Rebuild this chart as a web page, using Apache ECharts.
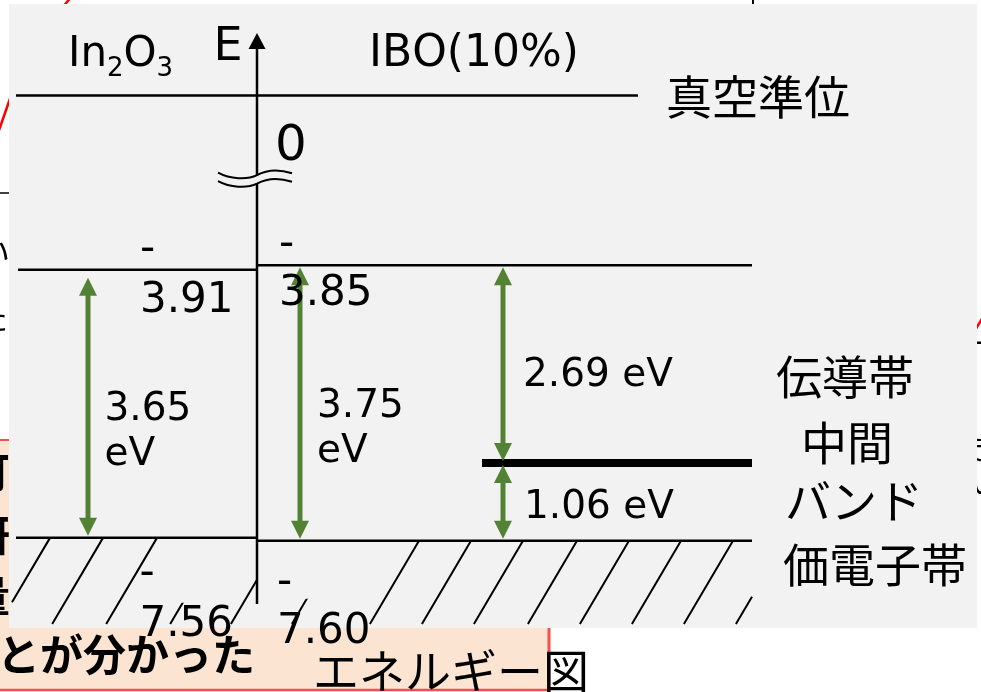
<!DOCTYPE html>
<html lang="ja">
<head>
<meta charset="utf-8">
<title>エネルギー図</title>
<script src="https://cdn.jsdelivr.net/npm/echarts@6.0.0/dist/echarts.min.js"></script>
<style>
html, body { margin: 0; padding: 0; background: #fff; }
#chart { width: 981px; height: 692px; }
</style>
</head>
<body>
<div id="chart"></div>
<script>
// ---- band energies, eV relative to the vacuum level ----
const materials = ['In₂O₃', 'IBO(10%)'];
const vacuumLevel = 0;
const conductionBand = [-3.91, -3.85];
const valenceBand = [-7.56, -7.60];
const intermediateBand = -6.54;            // IBO(10%) only
const bandGaps = [3.65, 3.75];             // CB -> VB for each material
const intermediateGaps = [2.69, 1.06];     // CB -> IB, IB -> VB
const levelNames = ['真空準位', '伝導帯', '中間バンド', '価電子帯'];
const axisName = 'E';

// ---- drawing constants ----
const LATIN = '"DejaVu Sans", Verdana, sans-serif';
const CJK = '"Noto Sans CJK JP", sans-serif';
const GREEN = '#548235';
const PANEL = '#f2f2f2';
const PEACH = '#fbe5d2';
const RED = '#f25050';
const AXIS_MIN = -8.46, AXIS_MAX = 0.85;
const X = { left: 16, axis: 257, right: 752, vacuumEnd: 638, ibStart: 482 };
const HATCH_SLOPE = 0.59, HATCH_BOTTOM = 624;

// diagonal hatching below each valence band; mask = text frame of the value label
const hatchLayout = [
  { tops: [50, 103, 157, 221], xMin: 12, xMax: X.axis, mask: [160, 256, 1, 65] },
  { tops: [280, 341, 419, 471, 523, 577, 629, 681, 733, 785], xMin: 12, xMax: X.right, mask: [258, 380, 1, 58] }
];

function textEl(text, x, y, font, extra) {
  return Object.assign({
    type: 'text',
    style: { text, x, y, font, fill: '#000', align: 'left', verticalAlign: 'middle',
             textAlign: 'left', textVerticalAlign: 'middle' }
  }, extra || {});
}

// ---- renderers (all vertical positions go through the energy axis) ----
function renderHatch(params, api) {
  const h = hatchLayout[api.value(0)];
  const y0 = api.coord([0, api.value(1)])[1];
  const xAt = (xt, y) => xt - HATCH_SLOPE * (y - y0);
  const children = [];
  h.tops.forEach(xt => {
    let ya = y0, yb = HATCH_BOTTOM;
    if (xt > h.xMax) ya = y0 + (xt - h.xMax) / HATCH_SLOPE;
    if (xAt(xt, yb) < h.xMin) yb = y0 + (xt - h.xMin) / HATCH_SLOPE;
    if (yb > ya) {
      children.push({ type: 'line', shape: { x1: xAt(xt, ya), y1: ya, x2: xAt(xt, yb), y2: yb },
                      style: { stroke: '#000', lineWidth: 2 } });
    }
  });
  const m = h.mask;
  children.push({ type: 'rect', shape: { x: m[0], y: y0 + m[2], width: m[1] - m[0], height: m[3] - m[2] },
                  style: { fill: PANEL } });
  return { type: 'group', children };
}

function renderLevel(params, api) {
  const a = api.coord([api.value(0), api.value(2)]);
  const b = api.coord([api.value(1), api.value(2)]);
  return { type: 'line', shape: { x1: a[0], y1: a[1], x2: b[0], y2: b[1] },
           style: { stroke: '#000', lineWidth: api.value(3) } };
}

function renderGap(params, api) {
  const x = api.coord([api.value(0), 0])[0];
  const top = api.coord([0, api.value(1)])[1] + api.value(4);
  const bot = api.coord([0, api.value(2)])[1] - api.value(5);
  const hl = 18, hw = 9;
  const twoLine = api.value(8) === 1;
  const label = api.value(3).toFixed(2) + (twoLine ? '\n' : ' ') + 'eV';
  const t = textEl(label, api.value(6), (top + bot) / 2 + api.value(7), '39px ' + LATIN);
  t.style.lineHeight = 45;
  return { type: 'group', children: [
    { type: 'line', shape: { x1: x, y1: top + hl - 1, x2: x, y2: bot - hl + 1 },
      style: { stroke: GREEN, lineWidth: 5 } },
    { type: 'polygon', shape: { points: [[x, top], [x - hw, top + hl], [x + hw, top + hl]] },
      style: { fill: GREEN } },
    { type: 'polygon', shape: { points: [[x, bot], [x - hw, bot - hl], [x + hw, bot - hl]] },
      style: { fill: GREEN } },
    t
  ] };
}

function renderLevelLabel(params, api) {
  const e = api.value(0);
  const y = api.coord([0, e])[1] + api.value(2);
  const s = e.toFixed(2);
  const t = textEl(s.charAt(0) + '\n' + s.slice(1), api.value(1), y, '42px ' + LATIN);
  t.style.lineHeight = api.value(3);
  return t;
}

function renderAxis(params, api) {
  const x = api.coord([X.axis, 0])[0];
  const yBottom = api.coord([0, AXIS_MIN])[1];
  const yTip = api.coord([0, AXIS_MAX])[1];
  const yBreak = (api.coord([0, -0.3])[1] + api.coord([0, -3.3])[1]) / 2 + 6;
  const yVac = api.coord([0, vacuumLevel])[1];
  const p = (px, py) => (x + px) + ' ' + (yBreak + py);
  const upper = 'M' + p(-39, -4.5) + ' C' + p(-27, 2) + ' ' + p(-10, 3) + ' ' + p(0, -2) +
                ' C' + p(9, -7) + ' ' + p(22, -8) + ' ' + p(35, -4);
  const lower = 'M' + p(-39, 4) + ' C' + p(-27, 10.5) + ' ' + p(-10, 11.5) + ' ' + p(0, 6.5) +
                ' C' + p(9, 1.5) + ' ' + p(22, 0.5) + ' ' + p(35, 4.5);
  const fill = 'M' + p(-39, -4.5) + ' C' + p(-27, 2) + ' ' + p(-10, 3) + ' ' + p(0, -2) +
               ' C' + p(9, -7) + ' ' + p(22, -8) + ' ' + p(35, -4) + ' L' + p(35, 4.5) +
               ' C' + p(22, 0.5) + ' ' + p(9, 1.5) + ' ' + p(0, 6.5) +
               ' C' + p(-10, 11.5) + ' ' + p(-27, 10.5) + ' ' + p(-39, 4) + ' Z';
  return { type: 'group', children: [
    { type: 'line', shape: { x1: x, y1: yBottom, x2: x, y2: yTip + 15 },
      style: { stroke: '#000', lineWidth: 2.5 } },
    { type: 'polygon', shape: { points: [[x, yTip], [x - 8.5, yTip + 16], [x + 8.5, yTip + 16]] },
      style: { fill: '#000' } },
    { type: 'path', shape: { pathData: fill }, style: { fill: PANEL, stroke: null } },
    { type: 'path', shape: { pathData: upper }, style: { fill: null, stroke: '#000', lineWidth: 2 } },
    { type: 'path', shape: { pathData: lower }, style: { fill: null, stroke: '#000', lineWidth: 2 } },
    textEl(axisName, 213.5, yTip + 15, '46px ' + LATIN),
    textEl(String(vacuumLevel), 275, yVac + 51.5, '50px ' + LATIN)
  ] };
}

const namePieces = [levelNames[0], levelNames[1], levelNames[2].slice(0, 2), levelNames[2].slice(2), levelNames[3]];
function renderName(params, api) {
  const y = api.coord([0, api.value(0)])[1] + api.value(2);
  return textEl(namePieces[api.value(3)], api.value(1), y, '46px ' + CJK);
}

// ---- series data built from the arrays above ----
const levelData = [
  [X.left, X.vacuumEnd, vacuumLevel, 2.5],
  [X.left + 2, X.axis, conductionBand[0], 2.5],
  [X.axis, X.right, conductionBand[1], 2.5],
  [X.left, X.axis, valenceBand[0], 2.5],
  [X.axis, X.right, valenceBand[1], 2.5],
  [X.ibStart, X.right, intermediateBand, 8]
];
const gapData = [
  [88, conductionBand[0], valenceBand[0], bandGaps[0], 8, 2, 104.5, 25.5, 1],
  [300, conductionBand[1], valenceBand[1], bandGaps[1], 2, 2, 317, 26.5, 1],
  [503, conductionBand[1], intermediateBand, intermediateGaps[0], 2, 2, 523, 12, 0],
  [503, intermediateBand, valenceBand[1], intermediateGaps[1], 2, 2, 524, 6.5, 0]
];
const levelLabelData = [
  [conductionBand[0], 140, 5.5, 51],
  [conductionBand[1], 279, 4.5, 49],
  [valenceBand[0], 139.5, 61.5, 51],
  [valenceBand[1], 277, 66.5, 49]
];
const nameData = [
  [vacuumLevel, 666, 1, 0],
  [conductionBand[1], 776, 111.6, 1],
  [intermediateBand, 801, -20, 2],
  [intermediateBand, 785, 38, 3],
  [valenceBand[1], 783, 24, 4]
];

// ---- material titles, digits written as subscripts ----
function formulaTexts(label, left, cy, size, subSize, subDrop) {
  const ctx = document.createElement('canvas').getContext('2d');
  const subs = '₀₁₂₃₄₅₆₇₈₉';
  const out = [];
  let x = left;
  for (const ch of label) {
    const k = subs.indexOf(ch);
    const t = k >= 0 ? String(k) : ch;
    const font = (k >= 0 ? subSize : size) + 'px ' + LATIN;
    out.push(Object.assign(textEl(t, x, k >= 0 ? cy + subDrop : cy, font), { z: 100 }));
    ctx.font = font;
    x += ctx.measureText(t).width;
  }
  return out;
}

function pageText(text, x, y, font, fill) {
  const t = textEl(text, x, y, font, { z: 0 });
  if (fill) t.style.fill = fill;
  return t;
}

const graphics = [
  // slide content surrounding the diagram
  { type: 'rect', shape: { x: -5, y: 440, width: 554, height: 250 }, style: { fill: PEACH }, z: 0 },
  { type: 'line', shape: { x1: -5, y1: 440, x2: 549, y2: 440 }, style: { stroke: RED, lineWidth: 2 }, z: 0 },
  { type: 'line', shape: { x1: -5, y1: 690, x2: 549, y2: 690 }, style: { stroke: RED, lineWidth: 2.5 }, z: 0 },
  { type: 'line', shape: { x1: 549, y1: 440, x2: 549, y2: 692 }, style: { stroke: RED, lineWidth: 3 }, z: 0 },
  { type: 'line', shape: { x1: 62, y1: 8, x2: 72, y2: -4 }, style: { stroke: '#ff0000', lineWidth: 2.5 }, z: 0 },
  { type: 'line', shape: { x1: -3, y1: 136, x2: 13, y2: 90 }, style: { stroke: '#ff0000', lineWidth: 2.5 }, z: 0 },
  { type: 'line', shape: { x1: -5, y1: 193, x2: 15, y2: 193 }, style: { stroke: '#000', lineWidth: 1.5 }, z: 0 },
  { type: 'line', shape: { x1: 753, y1: -2, x2: 753, y2: 10 }, style: { stroke: '#000', lineWidth: 2 }, z: 0 },
  { type: 'line', shape: { x1: 974, y1: 332, x2: 986, y2: 312 }, style: { stroke: '#ff0000', lineWidth: 2.5 }, z: 0 },
  pageText('い', -22, 252, '32px ' + CJK),
  pageText('た', -24, 318, '32px ' + CJK),
  pageText('ー', 968, 343, '30px ' + CJK),
  pageText('ぎ', 969, 448, '30px ' + CJK),
  pageText('い', 970, 482, '30px ' + CJK),
  pageText('可', -32, 472, 'bold 42px ' + CJK),
  pageText('研', -32, 535, 'bold 42px ' + CJK),
  pageText('量', -32, 596, 'bold 42px ' + CJK),
  // diagram panel
  { type: 'rect', shape: { x: 9, y: 4, width: 968, height: 624 }, style: { fill: PANEL }, z: 1 },
  // slide text below the panel
  Object.assign(textEl('とが分かった', -3, 655, 'bold 43px ' + CJK), { z: 100 }),
  Object.assign(textEl('エネルギー図', 313, 671, '46px ' + CJK), { z: 100 })
].concat(
  formulaTexts(materials[0], 68, 55, 42, 26, 14),
  formulaTexts(materials[1], 369, 55, 44, 26, 14)
);

function custom(name, data, renderItem, z) {
  return { type: 'custom', name, data, renderItem, z, silent: true, clip: false,
           coordinateSystem: 'cartesian2d', encode: { x: 0, y: 1 } };
}

const chart = echarts.init(document.getElementById('chart'), null, { renderer: 'canvas' });
chart.setOption({
  backgroundColor: '#ffffff',
  animation: false,
  grid: { left: 0, right: 0, top: 33, bottom: 88, containLabel: false, outerBoundsMode: 'none' },
  xAxis: { type: 'value', min: 0, max: 981, show: false },
  yAxis: {
    type: 'value', min: AXIS_MIN, max: AXIS_MAX, show: false,
    breaks: [{ start: -3.3, end: -0.3, gap: '18.8%' }],
    breakArea: { show: false }
  },
  graphic: { elements: graphics },
  series: [
    custom('hatch', [[0, valenceBand[0]], [1, valenceBand[1]]], renderHatch, 2),
    custom('levels', levelData, renderLevel, 3),
    custom('gaps', gapData, renderGap, 4),
    custom('axis', [[X.axis, AXIS_MIN]], renderAxis, 5),
    custom('levelLabels', levelLabelData, renderLevelLabel, 6),
    custom('names', nameData, renderName, 6)
  ]
});
</script>
</body>
</html>
